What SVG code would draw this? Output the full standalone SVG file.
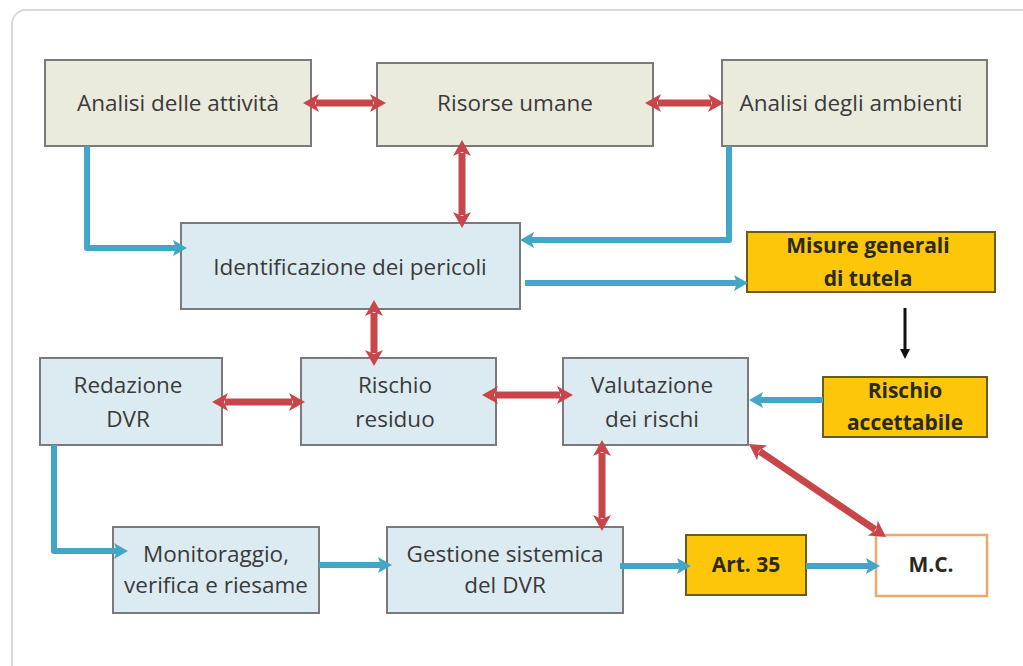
<svg xmlns="http://www.w3.org/2000/svg" width="1023" height="666" viewBox="0 0 1023 666">
<style>
.bg{fill:#ffffff}
.frame{fill:#ffffff;stroke:#d9d9d9;stroke-width:2}
.beige{fill:#eaebdd;stroke:#7a7a7a;stroke-width:2}
.blue{fill:#dcebf2;stroke:#7a7a7a;stroke-width:2}
.yellow{fill:#fdc609;stroke:#6b5a1e;stroke-width:2}
.mc{fill:#ffffff;stroke:#f0a868;stroke-width:2.5}
text{font-family:"Open Sans","Liberation Sans",sans-serif;font-size:22.5px;fill:#3a3a3a;text-anchor:middle}
text.b{font-weight:bold;font-size:21px;fill:#2a2a1a}
.red{stroke:#c8464a;stroke-width:7;fill:none;marker-start:url(#rh);marker-end:url(#rh)}
.cy{stroke:#44a6c6;stroke-width:6;fill:none;stroke-linejoin:round;marker-end:url(#bh)}
.blk{stroke:#111111;stroke-width:3;fill:none;marker-end:url(#kh)}
</style>
<defs>
<marker id="rh" markerUnits="userSpaceOnUse" viewBox="0 0 16 18" markerWidth="16" markerHeight="18" refX="3" refY="9" orient="auto-start-reverse"><path d="M0,0 L16,9 L0,18 L4,9 Z" fill="#c8464a"/></marker>
<marker id="bh" markerUnits="userSpaceOnUse" viewBox="0 0 14 16" markerWidth="14" markerHeight="16" refX="3" refY="8" orient="auto"><path d="M0,0 L14,8 L0,16 L3,8 Z" fill="#44a6c6"/></marker>
<marker id="kh" markerUnits="userSpaceOnUse" viewBox="0 0 10 10" markerWidth="10" markerHeight="10" refX="3" refY="5" orient="auto"><path d="M0,0 L10,5 L0,10 Z" fill="#111111"/></marker>
</defs>
<rect class="bg" x="0" y="0" width="1023" height="666"/>
<rect class="frame" x="12" y="10" width="1040" height="700" rx="14"/>

<g id="n-analisi-attivita"><rect class="beige" x="45" y="60" width="266" height="86"/><text x="178" y="111">Analisi delle attività</text></g>
<g id="n-risorse-umane"><rect class="beige" x="377" y="63" width="276" height="83"/><text x="515" y="111">Risorse umane</text></g>
<g id="n-analisi-ambienti"><rect class="beige" x="722" y="60" width="265" height="86"/><text x="851" y="111">Analisi degli ambienti</text></g>
<g id="n-identificazione"><rect class="blue" x="181" y="223" width="339" height="86"/><text x="350" y="275">Identificazione dei pericoli</text></g>
<g id="n-misure"><rect class="yellow" x="747" y="232" width="248" height="60"/><text class="b" x="868" y="253">Misure generali</text><text class="b" x="868" y="286">di tutela</text></g>
<g id="n-redazione"><rect class="blue" x="40" y="358" width="182" height="87"/><text x="128" y="393">Redazione</text><text x="128" y="427">DVR</text></g>
<g id="n-rischio-residuo"><rect class="blue" x="301" y="358" width="195" height="87"/><text x="395" y="393">Rischio</text><text x="395" y="427">residuo</text></g>
<g id="n-valutazione"><rect class="blue" x="563" y="358" width="185" height="87"/><text x="652" y="393">Valutazione</text><text x="652" y="427">dei rischi</text></g>
<g id="n-rischio-accettabile"><rect class="yellow" x="823" y="377" width="164" height="60"/><text class="b" x="905" y="398">Rischio</text><text class="b" x="905" y="430">accettabile</text></g>
<g id="n-monitoraggio"><rect class="blue" x="113" y="527" width="206" height="86"/><text x="216" y="562">Monitoraggio,</text><text x="216" y="593">verifica e riesame</text></g>
<g id="n-gestione"><rect class="blue" x="387" y="527" width="236" height="86"/><text x="505" y="562">Gestione sistemica</text><text x="505" y="593">del DVR</text></g>
<g id="n-art35"><rect class="yellow" x="686" y="535" width="120" height="60"/><text class="b" x="746" y="572">Art. 35</text></g>
<g id="n-mc"><rect class="mc" x="876" y="535" width="111" height="61"/><text class="b" x="931" y="572">M.C.</text></g>

<g id="connectors">
<line class="red" x1="316" y1="103" x2="373" y2="103"/>
<line class="red" x1="658" y1="103" x2="711" y2="103"/>
<line class="red" x1="462" y1="153" x2="462" y2="215"/>
<line class="red" x1="374" y1="313" x2="374" y2="353"/>
<line class="red" x1="225" y1="402" x2="292" y2="402"/>
<line class="red" x1="495" y1="395" x2="560" y2="395"/>
<line class="red" x1="602" y1="453" x2="602" y2="518"/>
<line class="red" x1="759.7" y1="451.3" x2="875.2" y2="529.7"/>
<path class="cy" d="M87,146 V248 H176"/>
<path class="cy" d="M729,146 V240 H531"/>
<path class="cy" d="M525,283 H737"/>
<path class="cy" d="M823,400 H760"/>
<path class="cy" d="M54,445 V551 H117"/>
<path class="cy" d="M319,565 H381"/>
<path class="cy" d="M620,566 H680"/>
<path class="cy" d="M806,566 H869"/>
<line class="blk" x1="905" y1="308" x2="905" y2="352"/>
</g>
</svg>
